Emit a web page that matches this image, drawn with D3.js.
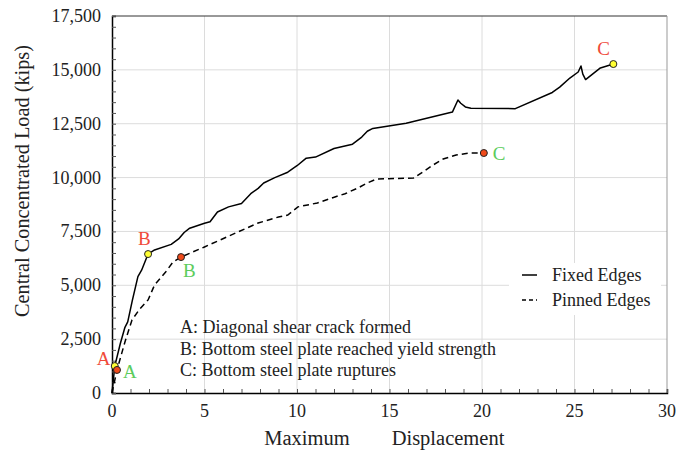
<!DOCTYPE html>
<html>
<head>
<meta charset="utf-8">
<script src="https://cdn.jsdelivr.net/npm/d3@7"></script>
<style>
  body { margin: 0; background: #fff; }
</style>
</head>
<body>
<svg id="chart" width="692" height="451"></svg>
<script>
// displacement, load (kips)
const fixedEdges = [
  [0, 0], [0.15, 1250], [0.45, 2300], [0.7, 3050], [0.85, 3300], [1.1, 4300], [1.4, 5400],
  [1.6, 5700], [1.95, 6450], [2.3, 6640], [3.2, 6900], [3.6, 7150], [3.9, 7450], [4.2, 7650],
  [5.0, 7880], [5.3, 7950], [5.7, 8400], [6.3, 8640], [7.0, 8800], [7.5, 9250], [7.9, 9500],
  [8.2, 9750], [8.8, 10000], [9.5, 10250], [10.0, 10550], [10.5, 10900], [11.0, 10950],
  [12.0, 11350], [13.0, 11550], [13.5, 11880], [13.8, 12150], [14.1, 12280], [15.9, 12520],
  [18.4, 13040], [18.7, 13600], [18.85, 13450], [19.1, 13280], [19.4, 13220], [21.8, 13200],
  [23.8, 13950], [24.2, 14200], [24.75, 14620], [25.2, 14900], [25.35, 15180], [25.45, 14800],
  [25.6, 14550], [26.4, 15090], [27.1, 15270]
];
const pinnedEdges = [
  [0, 0], [0.27, 1070], [0.7, 2370], [1.08, 3390], [1.5, 3900], [1.95, 4320], [2.3, 5010],
  [2.9, 5620], [3.3, 6080], [3.73, 6310], [5.0, 6780], [6.8, 7470], [7.9, 7890], [9.0, 8170],
  [9.5, 8260], [10.05, 8640], [11.1, 8820], [12.05, 9100], [12.6, 9250], [13.3, 9520],
  [13.8, 9750], [14.3, 9930], [16.3, 9980], [16.8, 10260], [17.35, 10580], [17.9, 10860],
  [18.6, 11050], [19.35, 11140], [20.1, 11140]
];
const fixedMarks = [["A", 0.15, 1250], ["B", 1.95, 6450], ["C", 27.1, 15270]];
const pinnedMarks = [["A", 0.27, 1070], ["B", 3.73, 6310], ["C", 20.1, 11140]];
const notes = [
  "A: Diagonal shear crack formed",
  "B: Bottom steel plate reached yield strength",
  "C: Bottom steel plate ruptures"
];
const xTicks = [0, 5, 10, 15, 20, 25, 30];
const yTicks = [0, 2500, 5000, 7500, 10000, 12500, 15000, 17500];

const serif = '"Liberation Serif", "Times New Roman", serif';
const margin = { left: 112, top: 16, right: 25, bottom: 58 };
const W = 692, H = 451;
const iw = W - margin.left - margin.right, ih = H - margin.top - margin.bottom;

const svg = d3.select("#chart");
const g = svg.append("g").attr("transform", `translate(${margin.left},${margin.top})`);

const x = d3.scaleLinear().domain([0, 30]).range([0, iw]);
const y = d3.scaleLinear().domain([0, 17500]).range([ih, 0]);

function label(sel) {
  return sel.style("font-family", serif).attr("fill", "#222");
}

// grid
g.append("g").selectAll("line").data(xTicks.slice(1, -1)).join("line")
  .attr("x1", d => x(d)).attr("x2", d => x(d)).attr("y1", 0).attr("y2", ih)
  .attr("stroke", "#dcdcdc").attr("stroke-width", 1);
g.append("g").selectAll("line").data(yTicks.slice(1, -1)).join("line")
  .attr("y1", d => y(d)).attr("y2", d => y(d)).attr("x1", 0).attr("x2", iw)
  .attr("stroke", "#dcdcdc").attr("stroke-width", 1);

// frame
g.append("line").attr("x1", 0).attr("x2", iw).attr("y1", 0).attr("y2", 0).attr("stroke", "#333");
g.append("line").attr("x1", iw).attr("x2", iw).attr("y1", 0).attr("y2", ih).attr("stroke", "#999");

// axes with inward minor ticks
const xAxis = g.append("g").attr("transform", `translate(0,${ih})`)
  .call(d3.axisBottom(x).tickValues(d3.range(0, 31, 1)).tickSize(-4).tickFormat(""));
const yAxis = g.append("g")
  .call(d3.axisLeft(y).tickValues(d3.range(0, 17501, 500)).tickSize(-4).tickFormat(""));
[xAxis, yAxis].forEach(a => {
  a.select(".domain").attr("stroke", "#000").attr("stroke-width", 1.5);
  a.selectAll(".tick line").attr("stroke", "#555");
});

g.append("g").selectAll("text").data(xTicks).join("text").call(label)
  .attr("x", d => x(d)).attr("y", ih + 24).attr("text-anchor", "middle")
  .attr("font-size", 18).text(d => d);
g.append("g").selectAll("text").data(yTicks).join("text").call(label)
  .attr("x", -11).attr("y", d => y(d) + 6).attr("text-anchor", "end")
  .attr("font-size", 18).text(d => d3.format(",")(d));

// axis titles
svg.append("text").call(label).attr("x", 307).attr("y", 445).attr("font-size", 20.5)
  .attr("text-anchor", "middle").text("Maximum");
svg.append("text").call(label).attr("x", 448).attr("y", 445).attr("font-size", 20.5)
  .attr("text-anchor", "middle").text("Displacement");
svg.append("text").call(label).attr("transform", "translate(29,181) rotate(-90)")
  .attr("text-anchor", "middle").attr("font-size", 20.3).text("Central Concentrated Load (kips)");

// lines
const line = d3.line().x(d => x(d[0])).y(d => y(d[1]));
g.append("path").datum(fixedEdges).attr("d", line)
  .attr("fill", "none").attr("stroke", "#000").attr("stroke-width", 1.5).attr("stroke-linejoin", "round");
g.append("path").datum(pinnedEdges).attr("d", line)
  .attr("fill", "none").attr("stroke", "#000").attr("stroke-width", 1.5).attr("stroke-dasharray", "6,4");

// markers
g.append("g").selectAll("circle").data(fixedMarks).join("circle")
  .attr("cx", d => x(d[1])).attr("cy", d => y(d[2])).attr("r", 3.5)
  .attr("fill", "#ffff33").attr("stroke", "#222").attr("stroke-width", 1);
g.append("g").selectAll("circle").data(pinnedMarks).join("circle")
  .attr("cx", d => x(d[1])).attr("cy", d => y(d[2])).attr("r", 3.5)
  .attr("fill", "#f04a1a").attr("stroke", "#222").attr("stroke-width", 1);

const fixedOff = { A: [-18, -1], B: [-10, -9], C: [-16, -9] };
const pinnedOff = { A: [6, 8], B: [2, 20], C: [9, 7] };
g.append("g").selectAll("text").data(fixedMarks).join("text").call(label)
  .attr("x", d => x(d[1]) + fixedOff[d[0]][0]).attr("y", d => y(d[2]) + fixedOff[d[0]][1])
  .attr("font-size", 19).attr("fill", "#f04a3a").text(d => d[0]);
g.append("g").selectAll("text").data(pinnedMarks).join("text").call(label)
  .attr("x", d => x(d[1]) + pinnedOff[d[0]][0]).attr("y", d => y(d[2]) + pinnedOff[d[0]][1])
  .attr("font-size", 19).attr("fill", "#5ccc5c").text(d => d[0]);

// notes
g.append("g").selectAll("text").data(notes).join("text").call(label)
  .attr("x", 68).attr("y", (d, i) => 317 + i * 21.5)
  .attr("font-size", 18).text(d => d);

// legend
const lg = g.append("g").attr("transform", `translate(${iw - 158},${247})`);
lg.append("rect").attr("x", 0).attr("y", 0).attr("width", 152).attr("height", 52).attr("fill", "#fff");
lg.append("line").attr("x1", 13).attr("x2", 28).attr("y1", 12).attr("y2", 12)
  .attr("stroke", "#000").attr("stroke-width", 1.5);
lg.append("line").attr("x1", 13).attr("x2", 28).attr("y1", 37).attr("y2", 37)
  .attr("stroke", "#000").attr("stroke-width", 1.5).attr("stroke-dasharray", "4,3");
lg.append("text").call(label).attr("x", 43).attr("y", 18).attr("font-size", 18).text("Fixed Edges");
lg.append("text").call(label).attr("x", 43).attr("y", 43).attr("font-size", 18).text("Pinned Edges");
</script>
</body>
</html>
